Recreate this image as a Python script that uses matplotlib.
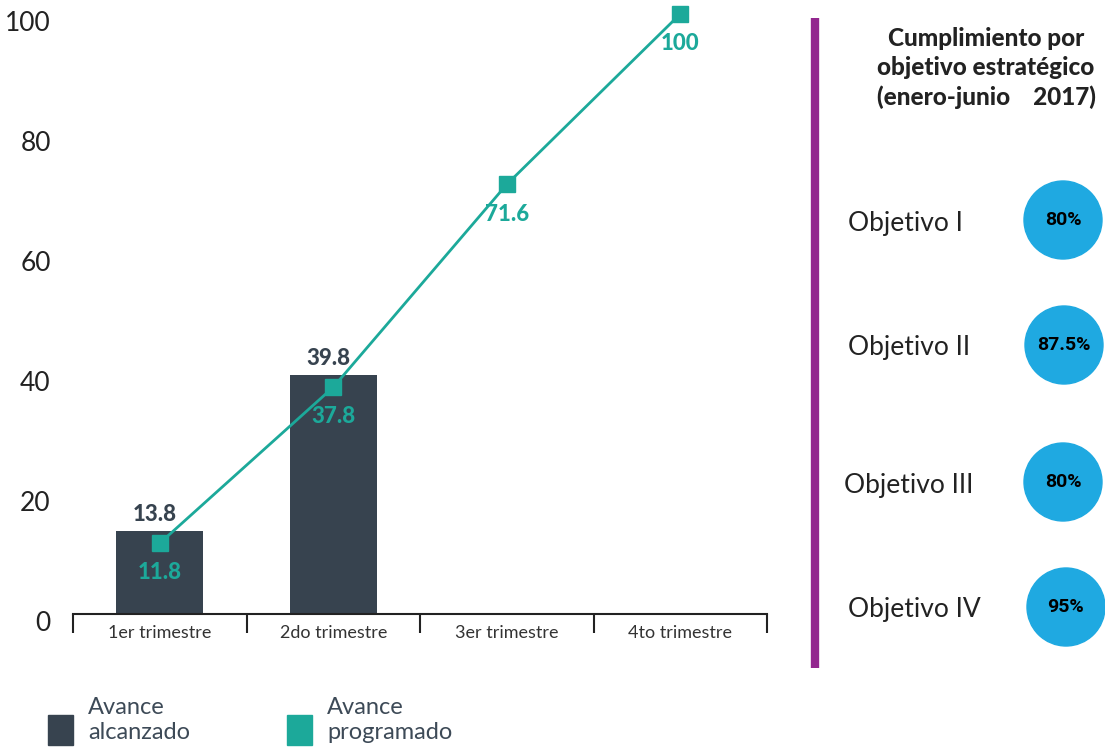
import matplotlib.pyplot as plt
import matplotlib.transforms as mtransforms
from matplotlib.patches import Circle, Rectangle

plt.rcParams['font.family'] = ['Lato', 'DejaVu Sans']

# data
trimestres = ['1er trimestre', '2do trimestre', '3er trimestre', '4to trimestre']
alcanzado = [13.8, 39.8, 0, 0]
programado = [11.8, 37.8, 71.6, 100]
y_ticks = [0, 20, 40, 60, 80, 100]
objetivos = ['Objetivo I', 'Objetivo II', 'Objetivo III', 'Objetivo IV']
cumplimiento = ['80%', '87.5%', '80%', '95%']

dark = '#37434f'
teal = '#1ca99a'
blue = '#1fa9e1'
purple = '#93278f'

fig = plt.figure(figsize=(11.05, 7.5), dpi=100)
ax = fig.add_axes([73/1105, 1 - 614/750, 694/1105, 600/750])

x = range(len(trimestres))
ax.bar(x, alcanzado, width=0.5, color=dark, zorder=2)
ax.plot(x, programado, color=teal, lw=2, marker='s', ms=11, zorder=3, clip_on=False)

for i in x:
    if alcanzado[i] > 0:
        ax.text(i - 0.03, alcanzado[i] + 1.0, f'{alcanzado[i]}', ha='center', va='bottom',
                fontsize=16, fontweight='black', color=dark)
    ax.text(i, programado[i] - 3.2, f'{programado[i]:g}', ha='center', va='top',
            fontsize=16, fontweight='black', color=teal, zorder=4)

ax.set_xlim(-0.5, 3.5)
ax.set_ylim(0, 100)
ax.set_yticks(y_ticks)
ax.tick_params(axis='y', length=0, pad=16, labelsize=19, labelcolor='#222222')
shift = mtransforms.ScaledTranslation(0, -7/100, fig.dpi_scale_trans)
for lab in ax.get_yticklabels():
    lab.set_transform(lab.get_transform() + shift)
ax.set_xticks(x)
ax.set_xticklabels(trimestres, fontsize=13, color='#333333')
ax.tick_params(axis='x', length=0, pad=8)
ax.set_xticks([-0.5, 0.5, 1.5, 2.5, 3.5], minor=True)
ax.tick_params(axis='x', which='minor', length=14, width=1.5, direction='out', color='#222222')
for s in ['top', 'right', 'left']:
    ax.spines[s].set_visible(False)
ax.spines['bottom'].set_linewidth(1.5)
ax.spines['bottom'].set_color('#222222')

# overlay in pixel coordinates for side panel and legend
ov = fig.add_axes([0, 0, 1, 1])
ov.set_xlim(0, 1105)
ov.set_ylim(750, 0)
ov.axis('off')
ov.patch.set_alpha(0)

ov.plot([815, 815], [18, 668], color=purple, lw=6, solid_capstyle='butt')
ov.text(986, 68, 'Cumplimiento por\nobjetivo estratégico\n(enero-junio    2017)',
        ha='center', va='center', fontsize=17.5, fontweight='black', color='#222222',
        linespacing=1.32)

circle_y = [220, 345, 482, 607]
label_x = [905, 909, 909, 914]
circle_x = [1063, 1064, 1063, 1066]
for i, (obj, pct) in enumerate(zip(objetivos, cumplimiento)):
    ov.text(label_x[i], circle_y[i] + 3, obj, ha='center', va='center', fontsize=19, color='#222222')
    ov.add_patch(Circle((circle_x[i], circle_y[i]), 39, color=blue))
    ov.text(circle_x[i], circle_y[i], pct, ha='center', va='center', fontsize=14,
            fontweight='bold', color='black', family=['Liberation Sans Narrow', 'Roboto'])

# legend
legend_items = [('Avance\nalcanzado', dark, 48), ('Avance\nprogramado', teal, 287)]
for txt, col, lx in legend_items:
    ov.add_patch(Rectangle((lx, 715), 25, 30, color=col))
    ov.text(lx + 40, 720, txt, ha='left', va='center', fontsize=17, color='#3d4a57',
            linespacing=1.2)

fig.savefig('out.png', dpi=100)
